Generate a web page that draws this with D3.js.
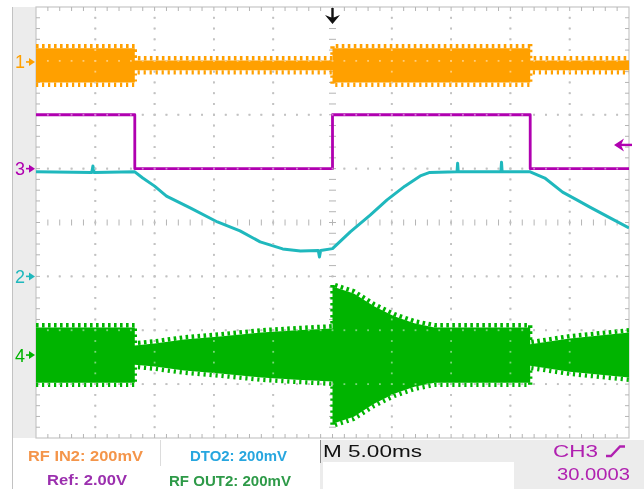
<!DOCTYPE html>
<html>
<head>
<meta charset="utf-8">
<script src="https://cdn.jsdelivr.net/npm/d3@7"></script>
<style>
  html, body { margin: 0; padding: 0; background: #ffffff; }
  svg { display: block; }
</style>
</head>
<body>
<svg id="scope" width="644" height="489"></svg>
<script>
// ---- Acquisition data (time in ms from the left edge, 5 ms/div) ----

// CH3  Ref square wave, volts (2.00 V/div)
const refTime  = [0, 8.33, 8.33, 25, 25, 41.67, 41.67, 50];
const refVolts = [2.0, 2.0, 0, 0, 2.0, 2.0, 0, 0];

// CH2  DTO2 detector output, mV (200 mV/div)
const dtoTime = [0, 4.7, 4.8, 4.9, 8.33, 9.0, 10.0, 11.0, 13.0, 15.3, 17.2, 18.9, 20.8, 22.3,
                 23.8, 23.9, 24.0, 25.0, 26.5, 28.2, 29.6, 31.1, 32.4, 33.2, 35.5, 35.55, 35.6,
                 39.2, 39.25, 39.3, 41.67, 42.9, 44.4, 45.6, 46.7, 48.4, 50];
const dtoMv   = [388, 386, 410, 386, 388, 365, 335, 298, 254, 202, 169, 128, 102, 94,
                 96, 72, 96, 103, 165, 228, 284, 335, 373, 386, 388, 420, 388,
                 388, 424, 388, 388, 365, 313, 284, 257, 217, 180];

// CH1  RF IN2 envelope peaks, mV (200 mV/div)
const rfInTime  = [0, 8.33, 8.33, 25, 25, 41.67, 41.67, 50];
const rfInUpper = [67, 67, 22, 22, 67, 67, 22, 22];
const rfInLower = [-93, -93, -47, -47, -93, -93, -47, -47];

// CH4  RF OUT2 envelope peak amplitude, mV (200 mV/div)
const rfOutTime = [0, 8.33, 8.33, 10, 12.5, 15.5, 19, 22, 25, 25, 26.8, 28.5, 30.2, 31.9, 33.6,
                   41.67, 41.67, 45, 50];
const rfOutAmp  = [119, 119, 52, 59, 74, 85, 100, 108, 115, 271, 245, 197, 160, 134, 119,
                   119, 56, 78, 100];

// Channel ground markers (divisions from screen centre) and scale factors
const chLabels  = ["1", "3", "2", "4"];
const chOffsets = [2.98, 1.0, -1.0, -2.46];
const chColors  = ["#ffa000", "#b000b0", "#1fb8bd", "#00b400"];
const chPerDiv  = [200, 2.0, 200, 200];   // mV/div, V/div, mV/div, mV/div

const triggerTime = 25;       // ms
const triggerLevel = 0.88;    // V on CH3

// Readout panel texts
const readoutLeft  = ["RF IN2: 200mV", "DTO2: 200mV", "Ref: 2.00V", "RF OUT2: 200mV"];
const readoutTime  = "M 5.00ms";
const readoutTrig  = "CH3";
const readoutFreq  = "30.0003";

// ---- Screen geometry ----
const svg = d3.select("#scope");
const L = 36, R = 629, T = 7, B = 438;
const x = d3.scaleLinear().domain([0, 50]).range([L, R]);
const yDiv = d3.scaleLinear().domain([-4, 4]).range([B, T]);
const yCh = (v, ch) => yDiv(chOffsets[ch] + v / chPerDiv[ch]);

// side panel and outer frame
svg.append("rect").attr("x", 12).attr("y", T).attr("width", L - 12).attr("height", B - T)
  .attr("fill", "#ececec");
svg.append("line").attr("x1", 12.5).attr("x2", 12.5).attr("y1", T).attr("y2", 489)
  .attr("stroke", "#c2c2c2");
svg.append("rect").attr("x", L).attr("y", T).attr("width", R - L).attr("height", B - T)
  .attr("fill", "#ffffff").attr("stroke", "#c6c6c6").attr("stroke-width", 1.2);

const clip = svg.append("clipPath").attr("id", "screen");
clip.append("rect").attr("x", L).attr("y", T).attr("width", R - L).attr("height", B - T);

const grid = svg.append("g").attr("stroke", "#b4b4b4").attr("stroke-width", 1);
const minorT = d3.range(0, 50.001, 1);
const minorV = d3.range(-4, 4.001, 0.2).map(v => +v.toFixed(2));

// border ticks
minorT.slice(1, -1).forEach(t => {
  grid.append("line").attr("x1", x(t)).attr("x2", x(t)).attr("y1", T).attr("y2", T + 4);
  grid.append("line").attr("x1", x(t)).attr("x2", x(t)).attr("y1", B - 4).attr("y2", B);
});
minorV.slice(1, -1).forEach(v => {
  grid.append("line").attr("x1", L).attr("x2", L + 4).attr("y1", yDiv(v)).attr("y2", yDiv(v));
  grid.append("line").attr("x1", R - 4).attr("x2", R).attr("y1", yDiv(v)).attr("y2", yDiv(v));
});
// centre cross ticks
const cx = x(25), cy = yDiv(0);
minorV.slice(1, -1).forEach(v => {
  grid.append("line").attr("x1", cx - 3.5).attr("x2", cx + 3.5).attr("y1", yDiv(v)).attr("y2", yDiv(v));
});
minorT.slice(1, -1).forEach(t => {
  grid.append("line").attr("x1", x(t)).attr("x2", x(t)).attr("y1", cy - 3).attr("y2", cy + 3);
});

// graticule dots
const majorT = [5, 10, 15, 20, 30, 35, 40, 45];
const majorV = [-3, -2, -1, 1, 2, 3];
const dots = [];
majorT.forEach(t => minorV.slice(1, -1).forEach(v => dots.push([x(t), yDiv(v)])));
majorV.forEach(v => minorT.slice(1, -1).forEach(t => dots.push([x(t), yDiv(v)])));
function drawDots(g, color) {
  g.selectAll("rect").data(dots).join("rect")
    .attr("x", d => d[0] - 0.9).attr("y", d => d[1] - 0.9)
    .attr("width", 1.8).attr("height", 1.8).attr("fill", color);
}
drawDots(svg.append("g"), "#8a8a8a");

// ---- Traces ----
const traces = svg.append("g").attr("clip-path", "url(#screen)");

function drawBand(times, upper, lower, ch) {
  const pts = times.map((t, i) => ({ x: x(t), yu: yCh(upper[i], ch), yl: yCh(lower[i], ch) }));
  const inset = 4.4;
  traces.append("path").datum(pts)
    .attr("d", d3.area().x(d => d.x).y0(d => d.yl - inset).y1(d => d.yu + inset))
    .attr("fill", chColors[ch]);
  [["yu", inset / 2, "2.6 3.4"], ["yl", -inset / 2, "2.2 3.8"]].forEach(([k, s, dash]) => {
    traces.append("path").datum(pts)
      .attr("d", d3.line().x(d => d.x).y(d => d[k] + s))
      .attr("fill", "none").attr("stroke", chColors[ch])
      .attr("stroke-width", inset).attr("stroke-dasharray", dash);
  });
}

function drawLine(times, values, ch, width) {
  traces.append("path").datum(times.map((t, i) => [x(t), yCh(values[i], ch)]))
    .attr("d", d3.line())
    .attr("fill", "none").attr("stroke", chColors[ch])
    .attr("stroke-width", width).attr("stroke-linejoin", "round");
}

drawBand(rfInTime, rfInUpper, rfInLower, 0);
drawBand(rfOutTime, rfOutAmp, rfOutAmp.map(a => -a), 3);
drawLine(dtoTime, dtoMv, 2, 3.0);
drawLine(refTime, refVolts, 1, 2.8);

// dots show through the traces
drawDots(svg.append("g").style("mix-blend-mode", "screen"), "#7a7a7a");

// ---- Channel markers ----
chLabels.forEach((lab, i) => {
  const y = yDiv(chOffsets[i]);
  const g = svg.append("g").attr("fill", chColors[i]).attr("stroke", chColors[i]);
  g.append("text").attr("x", 15).attr("y", y + 6.5).attr("stroke", "none")
    .attr("font-family", "Liberation Sans, Arial, sans-serif").attr("font-size", 18).text(lab);
  g.append("line").attr("x1", 26).attr("x2", 31).attr("y1", y).attr("y2", y).attr("stroke-width", 1.6);
  g.append("path").attr("stroke", "none")
    .attr("d", `M${29},${y - 4}L${35},${y}L${29},${y + 4}Z`);
});

// trigger position arrow
const tx = x(triggerTime);
svg.append("line").attr("x1", tx).attr("x2", tx).attr("y1", 8).attr("y2", 18)
  .attr("stroke", "#111").attr("stroke-width", 2.4);
svg.append("path").attr("fill", "#111")
  .attr("d", `M${tx - 7.5},15L${tx},24L${tx + 7.5},15L${tx},18Z`);

// trigger level arrow
const ty = yCh(triggerLevel, 1);
svg.append("line").attr("x1", 619).attr("x2", 632).attr("y1", ty).attr("y2", ty)
  .attr("stroke", chColors[1]).attr("stroke-width", 2.4);
svg.append("path").attr("fill", chColors[1])
  .attr("d", `M614,${ty}L624,${ty - 6.5}L621,${ty}L624,${ty + 6.5}Z`);

// ---- Readout panel ----
svg.append("line").attr("x1", 160.5).attr("x2", 160.5).attr("y1", 440).attr("y2", 466)
  .attr("stroke", "#dcdcdc");
svg.append("rect").attr("x", 320).attr("y", 440).attr("width", 324).attr("height", 49).attr("fill", "#ececec");
svg.append("rect").attr("x", 323).attr("y", 462).attr("width", 191).attr("height", 27).attr("fill", "#ffffff");
svg.append("line").attr("x1", 320.5).attr("x2", 320.5).attr("y1", 440).attr("y2", 463)
  .attr("stroke", "#8c8c8c");

const font = "Liberation Sans, Arial, sans-serif";
const legendStyle = [
  { x: 28,  y: 461, w: 115, s: 15.5, c: "#f4954a" },
  { x: 190, y: 461, w: 97,  s: 15.5, c: "#27a6df" },
  { x: 47,  y: 485, w: 80,  s: 15.5, c: "#9b2fae" },
  { x: 169, y: 486, w: 122, s: 15,   c: "#2e9a48" }
];
readoutLeft.forEach((s, i) => {
  const st = legendStyle[i];
  svg.append("text").attr("x", st.x).attr("y", st.y).attr("fill", st.c)
    .attr("font-family", font).attr("font-weight", "bold").attr("font-size", st.s)
    .attr("textLength", st.w).attr("lengthAdjust", "spacingAndGlyphs").text(s);
});

svg.append("text").attr("x", 323).attr("y", 457).attr("fill", "#111")
  .attr("font-family", font).attr("font-size", 17)
  .attr("textLength", 99).attr("lengthAdjust", "spacingAndGlyphs").text(readoutTime);
svg.append("text").attr("x", 553).attr("y", 457).attr("fill", "#b020b0")
  .attr("font-family", font).attr("font-size", 17)
  .attr("textLength", 45).attr("lengthAdjust", "spacingAndGlyphs").text(readoutTrig);
svg.append("path").attr("fill", "none").attr("stroke", "#b020b0").attr("stroke-width", 2.4)
  .attr("d", "M606,456H611L620,446.5H625");
svg.append("text").attr("x", 557).attr("y", 480).attr("fill", "#b020b0")
  .attr("font-family", font).attr("font-size", 17)
  .attr("textLength", 73).attr("lengthAdjust", "spacingAndGlyphs").text(readoutFreq);
</script>
</body>
</html>
